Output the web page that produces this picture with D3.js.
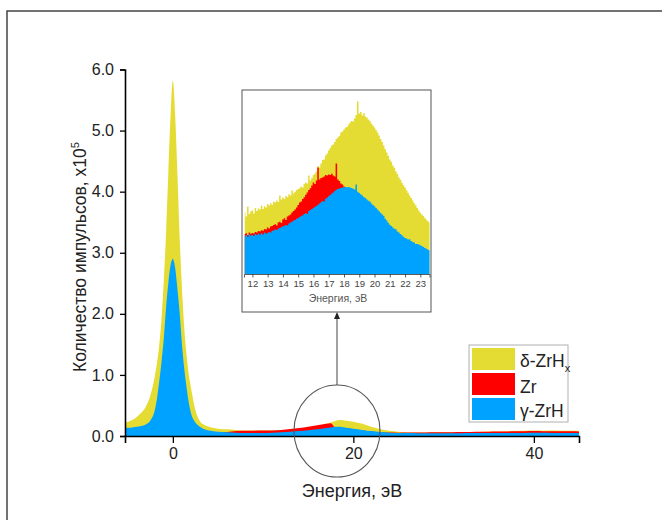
<!DOCTYPE html>
<html><head><meta charset="utf-8">
<script src="https://cdn.jsdelivr.net/npm/d3@7"></script>
<style>
html,body{margin:0;padding:0;background:#fff;}
svg{display:block;font-family:"Liberation Sans",Arial,sans-serif;}
</style></head>
<body>
<svg id="chart" width="662" height="520"></svg>
<script>
// ---------- Data ----------
const seriesNames = ["δ-ZrH", "Zr", "γ-ZrH"];
const seriesColors = ["#e4dc32", "#ff0000", "#00a2ff"];
const xTicksMain = [0, 20, 40];
const xMinorMain = [10, 30];
const yTicksMain = [0, 1, 2, 3, 4, 5, 6];
const yMinorMain = [0.5, 1.5, 2.5, 3.5, 4.5, 5.5];
const insetTicks = [12,13,14,15,16,17,18,19,20,21,22,23];
const insetMinor = [11.5,12.5,13.5,14.5,15.5,16.5,17.5,18.5,19.5,20.5,21.5,22.5,23.5];

// main spectrum (counts x10^5)
const mainEnergy = [-5.3,-5,-4.5,-4,-3.5,-3,-2.5,-2,-1.75,-1.5,
  -1.25,-1,-0.75,-0.5,-0.25,-0.1,0,0.1,0.25,0.5,
  0.75,1,1.25,1.5,1.75,2,2.5,3,3.5,4,
  5,6,7,8,9,10,11,12,13,14,
  15,16,17,17.5,18,18.5,19,20,21,22,
  23,24,25,26,27,28,29,30,31,32,
  33,34,35,36,37,38,39,40,41,42,
  43,44,45];
const mainDelta = [0.22,0.23,0.26,0.31,0.38,0.48,0.66,0.98,1.20,1.50,
  1.92,2.55,3.32,4.30,5.25,5.70,5.82,5.70,5.28,4.32,
  3.28,2.45,1.80,1.35,1.02,0.80,0.42,0.24,0.18,0.15,
  0.12,0.11,0.10,0.09,0.09,0.09,0.09,0.095,0.10,0.11,
  0.13,0.16,0.20,0.22,0.245,0.26,0.255,0.235,0.20,0.15,
  0.11,0.085,0.07,0.058,0.057,0.058,0.059,0.061,0.062,0.063,
  0.066,0.067,0.072,0.074,0.078,0.082,0.085,0.09,0.088,0.092,
  0.088,0.086,0.082];
const mainZr = [null,null,null,null,null,null,null,null,null,null,
  null,null,null,null,null,null,null,null,null,null,
  null,null,null,null,null,null,null,null,null,null,
  0.055,0.065,0.08,0.085,0.088,0.09,0.092,0.10,0.115,0.13,
  0.15,0.175,0.20,0.21,0.14,0.14,0.13,0.11,0.09,0.075,
  0.062,0.056,0.055,0.056,0.057,0.058,0.06,0.062,0.063,0.065,
  0.066,0.068,0.07,0.072,0.073,0.076,0.078,0.08,0.079,0.078,
  0.077,0.076,0.075];
const mainGamma = [0.13,0.135,0.14,0.15,0.165,0.19,0.25,0.42,0.62,0.90,
  1.22,1.60,2.10,2.50,2.80,2.88,2.90,2.87,2.76,2.42,
  2.02,1.52,1.12,0.82,0.56,0.38,0.22,0.15,0.11,0.09,
  0.07,0.06,0.055,0.05,0.05,0.05,0.055,0.06,0.07,0.08,
  0.095,0.11,0.13,0.14,0.15,0.15,0.14,0.12,0.10,0.08,
  0.065,0.055,0.05,0.048,0.046,0.045,0.045,0.045,0.046,0.047,
  0.048,0.049,0.05,0.05,0.05,0.05,0.051,0.052,0.052,0.051,
  0.05,0.05,0.05];

// inset spectrum (relative units)
const insetEnergy = [11.5,11.6,11.7,11.8,11.9,
  12.0,12.1,12.2,12.3,12.4,12.5,12.6,12.7,12.8,12.9,
  13.0,13.1,13.2,13.3,13.4,13.5,13.6,13.7,13.8,13.9,
  14.0,14.1,14.2,14.3,14.4,14.5,14.6,14.7,14.8,14.9,
  15.0,15.1,15.2,15.3,15.4,15.5,15.6,15.7,15.8,15.9,
  16.0,16.1,16.2,16.3,16.4,16.5,16.6,16.7,16.8,16.9,
  17.0,17.1,17.2,17.3,17.4,17.5,17.6,17.7,17.8,17.9,
  18.0,18.1,18.2,18.3,18.4,18.5,18.6,18.7,18.8,18.9,
  19.0,19.1,19.2,19.3,19.4,19.5,19.6,19.7,19.8,19.9,
  20.0,20.1,20.2,20.3,20.4,20.5,20.6,20.7,20.8,20.9,
  21.0,21.1,21.2,21.3,21.4,21.5,21.6,21.7,21.8,21.9,
  22.0,22.1,22.2,22.3,22.4,22.5,22.6,22.7,22.8,22.9,
  23.0,23.1,23.2,23.3,23.4,23.5,23.6];
const insetDelta = [2.05,1.92,2.25,2.00,2.08,
  2.12,2.02,2.20,2.10,2.18,2.15,2.28,2.17,2.26,2.22,
  2.33,2.28,2.36,2.30,2.42,2.38,2.45,2.40,2.62,2.48,
  2.55,2.50,2.60,2.56,2.66,2.62,2.78,2.68,2.74,2.80,
  2.83,2.86,2.92,2.88,3.00,3.05,3.02,3.28,3.12,3.20,
  3.30,3.35,3.42,3.60,3.55,3.68,3.80,3.82,3.95,4.02,
  4.12,4.20,4.28,4.32,4.40,4.50,4.55,4.60,4.72,4.75,
  4.82,4.88,4.90,4.98,5.05,5.10,5.08,5.18,5.30,5.75,
  5.35,5.40,5.28,5.36,5.25,5.22,5.15,5.10,5.02,4.95,
  4.88,4.80,4.72,4.62,4.50,4.40,4.28,4.16,4.05,3.94,
  3.82,3.74,3.62,3.54,3.42,3.33,3.22,3.14,3.04,2.96,
  2.88,2.79,2.71,2.62,2.53,2.45,2.36,2.29,2.20,2.12,
  2.04,1.98,1.93,1.87,1.81,1.76,1.72];
const insetZr = [1.33,1.36,1.30,1.38,1.34,
  1.37,1.35,1.40,1.38,1.43,1.42,1.46,1.44,1.50,1.48,
  1.55,1.52,1.58,1.60,1.63,1.66,1.62,1.72,1.74,1.70,
  1.82,1.86,1.80,1.92,1.95,1.98,2.05,2.10,2.15,2.22,
  2.30,2.38,2.42,2.50,2.56,2.64,2.72,2.80,2.86,2.95,
  3.05,3.00,3.12,3.55,3.15,3.20,3.22,3.25,3.30,3.28,
  3.32,3.30,3.34,3.28,3.25,3.68,3.15,3.10,3.02,2.98,
  2.92,2.88,2.85,2.84,2.82];
const insetGamma = [1.26,1.30,1.24,1.32,1.28,
  1.31,1.27,1.33,1.30,1.35,1.31,1.36,1.32,1.38,1.34,
  1.37,1.40,1.38,1.44,1.45,1.48,1.47,1.52,1.53,1.57,
  1.59,1.61,1.63,1.62,1.68,1.72,1.74,1.78,1.80,1.84,
  1.87,1.90,1.93,1.96,2.00,2.03,2.00,2.10,2.13,2.17,
  2.20,2.24,2.27,2.31,2.35,2.39,2.43,2.42,2.51,2.55,
  2.59,2.63,2.68,2.72,2.77,2.81,2.83,2.85,2.87,2.88,
  2.89,2.90,2.89,2.90,2.88,2.87,2.84,2.82,2.98,2.74,
  2.70,2.66,2.62,2.57,2.53,2.48,2.44,2.42,2.35,2.30,
  2.26,2.20,2.15,2.09,2.04,1.98,1.94,1.84,1.78,1.71,
  1.64,1.60,1.55,1.51,1.49,1.42,1.38,1.33,1.29,1.24,
  1.20,1.18,1.15,1.16,1.10,1.07,1.05,1.00,1.00,0.98,
  0.96,0.93,0.90,0.87,0.84,0.81,0.79];

// ---------- Drawing ----------
const svg = d3.select("#chart");
const font = '"Liberation Sans",Arial,sans-serif';

// outer frame
svg.append("rect").attr("x",7).attr("y",11).attr("width",700).attr("height",600)
  .attr("fill","none").attr("stroke","#444").attr("stroke-width",1.5);

const x = d3.scaleLinear().domain([-5.3, 45]).range([125, 579]);
const y = d3.scaleLinear().domain([0, 6]).range([436, 69.5]);

const mainSeries = [mainDelta, mainZr, mainGamma];
mainSeries.forEach((vals, i) => {
  const pts = mainEnergy.map((e, k) => ({e, v: vals[k]}));
  const area = d3.area().defined(d => d.v != null)
    .x(d => x(d.e)).y0(y(0)).y1(d => y(d.v)).curve(d3.curveMonotoneX);
  svg.append("path").attr("d", area(pts)).attr("fill", seriesColors[i]);
});

// axes
const gx = svg.append("g").attr("transform","translate(0,436)");
gx.call(d3.axisBottom(x).tickValues(xMinorMain).tickSize(4).tickFormat(""));
gx.call(d3.axisBottom(x).tickValues(xTicksMain).tickSize(7).tickPadding(5).tickFormat(d3.format("d")));
gx.selectAll(".domain").attr("stroke","#000").attr("stroke-width",1.6);
gx.selectAll(".tick line").attr("stroke","#000").attr("stroke-width",1.3);
gx.selectAll("text").attr("font-size",16).attr("font-family",font).attr("fill","#222");

const gy = svg.append("g").attr("transform","translate(125,0)");
gy.call(d3.axisLeft(y).tickValues(yMinorMain).tickSize(3).tickFormat(""));
gy.call(d3.axisLeft(y).tickValues(yTicksMain).tickSize(5).tickPadding(6).tickFormat(d3.format(".1f")));
gy.selectAll(".domain").attr("stroke","#000").attr("stroke-width",1.6);
gy.selectAll(".tick line").attr("stroke","#000").attr("stroke-width",1.3);
gy.selectAll("text").attr("font-size",16).attr("font-family",font).attr("fill","#222");

// axis titles
svg.append("text").attr("x",352).attr("y",497).attr("text-anchor","middle")
  .attr("font-size",18).attr("fill","#222").text("Энергия, эВ");
const yt = svg.append("text").attr("transform","translate(86,257) rotate(-90)")
  .attr("text-anchor","middle").attr("font-size",17.5).attr("fill","#222");
yt.append("tspan").text("Количество импульсов, x10");
yt.append("tspan").attr("dy",-7).attr("font-size",11).text("5");

// magnifier circle + arrow
svg.append("ellipse").attr("cx",337).attr("cy",431).attr("rx",43).attr("ry",46)
  .attr("fill","none").attr("stroke","#555").attr("stroke-width",1.1);
svg.append("line").attr("x1",337).attr("x2",337).attr("y1",385).attr("y2",317)
  .attr("stroke","#444").attr("stroke-width",1);
svg.append("path").attr("d","M337,312 L334,319 L340,319 Z").attr("fill","#222");

// legend
const lg = svg.append("g");
lg.append("rect").attr("x",469).attr("y",345).attr("width",99).attr("height",77)
  .attr("fill","#fff").attr("stroke","#b0b0b0").attr("stroke-width",1);
const swY = [348, 373, 398];
const txY = [367, 393, 417];
seriesNames.forEach((n, i) => {
  lg.append("rect").attr("x",472).attr("y",swY[i]).attr("width",43).attr("height",22)
    .attr("fill",seriesColors[i]);
  const t = lg.append("text").attr("x",520).attr("y",txY[i]).attr("font-size",17.5).attr("fill","#222");
  t.append("tspan").text(n);
  if (i === 0) t.append("tspan").attr("dy",5).attr("font-size",11).text("x");
});

// inset
const ig = svg.append("g");
ig.append("rect").attr("x",242).attr("y",90).attr("width",189).attr("height",222)
  .attr("fill","#fff").attr("stroke","#555").attr("stroke-width",1);
const ix = d3.scaleLinear().domain([11.45, 23.6]).range([244, 429.5]);
const iy = d3.scaleLinear().domain([0, 6]).range([274, 94]);
const insetSeries = [insetDelta, insetZr, insetGamma];
insetSeries.forEach((vals, i) => {
  const pts = vals.map((v, k) => ({e: insetEnergy[k], v}));
  const area = d3.area().x(d => ix(d.e)).y0(iy(0)).y1(d => iy(d.v)).curve(d3.curveStep);
  ig.append("path").attr("d", area(pts)).attr("fill", seriesColors[i]);
});
const igx = ig.append("g").attr("transform","translate(0,274)");
igx.call(d3.axisBottom(ix).tickValues(insetMinor).tickSize(2).tickFormat(""));
igx.call(d3.axisBottom(ix).tickValues(insetTicks).tickSize(3.5).tickPadding(3).tickFormat(d3.format("d")));
igx.selectAll(".domain").attr("stroke","#333").attr("stroke-width",0.8);
igx.selectAll(".tick line").attr("stroke","#333").attr("stroke-width",0.8);
igx.selectAll("text").attr("font-size",9.5).attr("font-family",font).attr("fill","#444");
ig.append("text").attr("x",338).attr("y",302).attr("text-anchor","middle")
  .attr("font-size",10.5).attr("fill","#555").text("Энергия, эВ");
</script>
</body></html>
